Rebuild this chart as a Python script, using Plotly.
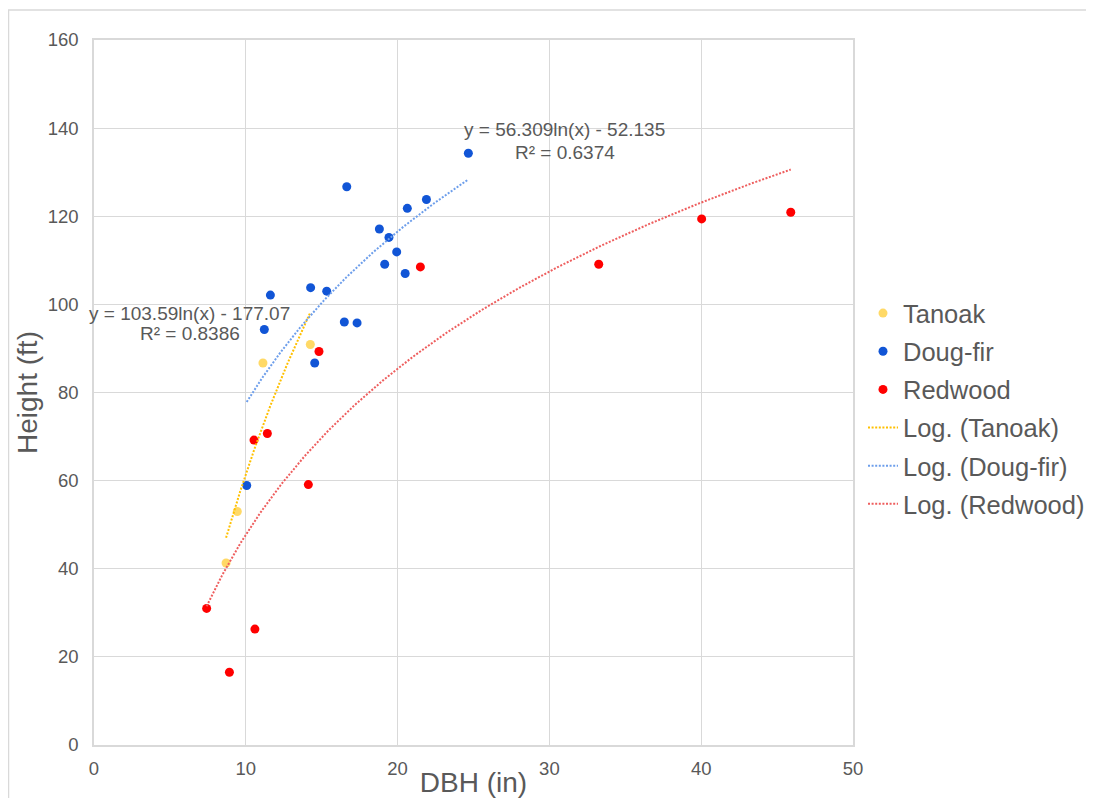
import numpy as np
import plotly.graph_objects as go

# ---- data ----
tanoak_dbh = [8.70, 9.44, 11.13, 14.25]
tanoak_h = [41.3, 53.0, 86.7, 90.9]

dougfir_dbh = [10.06, 11.22, 11.62, 14.27, 14.54, 15.33, 16.49, 16.65, 17.33,
               18.80, 19.15, 19.43, 19.94, 20.50, 20.64, 21.90, 24.66]
dougfir_h = [58.9, 94.3, 102.1, 103.8, 86.7, 103.0, 96.0, 126.7, 95.8,
             117.1, 109.1, 115.2, 111.9, 107.0, 121.8, 123.8, 134.3]

redwood_dbh = [7.42, 8.92, 10.54, 10.60, 11.42, 14.12, 14.82, 21.50, 33.25, 40.03, 45.90]
redwood_h = [31.0, 16.5, 69.2, 26.3, 70.7, 59.1, 89.3, 108.5, 109.1, 119.4, 120.9]

# logarithmic trendline coefficients shown on the chart: y = a*ln(x) + b
tanoak_fit = (103.59, -177.07, "0.8386")
dougfir_fit = (56.309, -52.135, "0.6374")
redwood_fit = (54.38, -77.486, "0.8092")

x_ticks = [0, 10, 20, 30, 40, 50]
y_ticks = [0, 20, 40, 60, 80, 100, 120, 140, 160]

FONT = "Liberation Sans, Arial, sans-serif"
GREY = "#595959"
GRID = "#d9d9d9"

# figure is placed at (8, 8) inside the page by the default body margin;
# keep it small enough that no scrollbars appear
W, H = 1078, 790
ML, MT = 86, 32
PW, PH = 759, 705

fig = go.Figure()

def add_points(name, xs, ys, color):
    fig.add_trace(go.Scatter(x=xs, y=ys, mode="markers", name=name, legendgroup=name,
                             marker=dict(size=9, color=color)))

def add_trend(name, xs, fit, color):
    a, b, _ = fit
    xx = np.linspace(min(xs), max(xs), 200)
    fig.add_trace(go.Scatter(x=xx, y=a * np.log(xx) + b, mode="lines", name=name,
                             legendgroup=name,
                             line=dict(color=color, width=2, dash="2px,1.6px")))

add_points("Tanoak", tanoak_dbh, tanoak_h, "#FFD966")
add_points("Doug-fir", dougfir_dbh, dougfir_h, "#1155D6")
add_points("Redwood", redwood_dbh, redwood_h, "#FF0000")
add_trend("Log. (Tanoak)", tanoak_dbh, tanoak_fit, "#FFC000")
add_trend("Log. (Doug-fir)", dougfir_dbh, dougfir_fit, "#6D9EEB")
add_trend("Log. (Redwood)", redwood_dbh, redwood_fit, "#EE5E5E")

def eq_text(fit):
    a, b, _ = fit
    return f"y = {a:g}ln(x) - {abs(b):g}"

# equation labels (positions in data units)
labels = [
    (tanoak_fit, 6.32, 98.0, 93.4),
    (dougfir_fit, 31.0, 139.6, 134.5),
    (redwood_fit, 52.96, 131.4, 126.4),
]
for fit, xc, y1, y2 in labels:
    fig.add_annotation(x=xc, y=y1, text=eq_text(fit), showarrow=False,
                       xanchor="center", yanchor="middle",
                       font=dict(family=FONT, size=19, color=GREY))
    fig.add_annotation(x=xc, y=y2, text=f"R² = {fit[2]}", showarrow=False,
                       xanchor="center", yanchor="middle",
                       font=dict(family=FONT, size=19, color=GREY))

# outer chart border
fig.add_shape(type="rect", xref="paper", yref="paper",
              x0=(0.5 - ML) / PW, x1=(W + 20 - ML) / PW,
              y0=-0.2, y1=(PH + MT - 2) / PH,
              line=dict(color=GRID, width=1.5), layer="below")

fig.update_layout(
    width=W, height=H,
    margin=dict(l=ML, r=W - ML - PW, t=MT, b=H - MT - PH),
    paper_bgcolor="white", plot_bgcolor="white",
    font=dict(family=FONT, color=GREY),
    showlegend=True,
    legend=dict(xref="container", yref="container",
                x=855 / W, y=1 - 282 / H, xanchor="left", yanchor="top",
                font=dict(family=FONT, size=25.5, color=GREY),
                tracegroupgap=2, bgcolor="rgba(0,0,0,0)"),
    xaxis=dict(range=[0, 50], tickvals=x_ticks, showgrid=True, gridcolor=GRID,
               gridwidth=1, zeroline=False, showline=True, linecolor=GRID,
               linewidth=1.5, mirror=True, ticks="", ticklabelstandoff=6,
               tickfont=dict(family=FONT, size=18.5, color=GREY),
               title=dict(text="DBH (in)", standoff=2,
                          font=dict(family=FONT, size=28, color=GREY)),
               automargin=False),
    yaxis=dict(range=[0, 160], tickvals=y_ticks, showgrid=True, gridcolor=GRID,
               gridwidth=1, zeroline=False, showline=True, linecolor=GRID,
               linewidth=1.5, mirror=True, ticks="", ticklabelstandoff=10,
               tickfont=dict(family=FONT, size=18.5, color=GREY),
               title=dict(text="Height (ft)", standoff=2,
                          font=dict(family=FONT, size=28, color=GREY)),
               automargin=False),
)

fig.write_html("out.html")
